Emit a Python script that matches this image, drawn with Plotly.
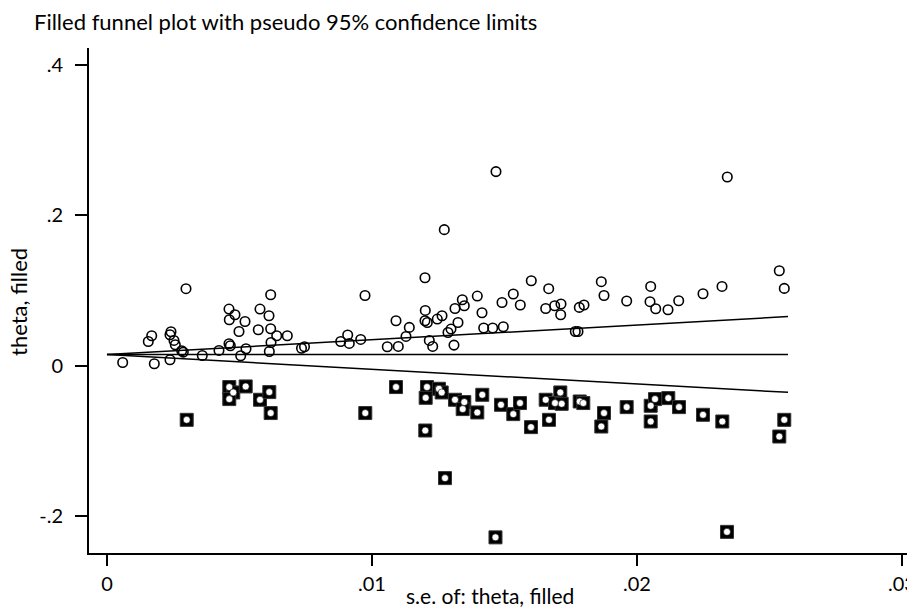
import plotly.graph_objects as go

# Observed studies: standard error and effect (theta)
se_obs = [0.000592, 0.001558, 0.001687, 0.001785, 0.002377, 0.002415, 0.002377, 0.002528, 0.002577,
          0.002819, 0.002879, 0.002981, 0.003596, 0.004226, 0.004604, 0.004830, 0.004615, 0.005208,
          0.004981, 0.004604, 0.004653, 0.005245, 0.005045, 0.005774, 0.006113, 0.005709, 0.006177,
          0.006177, 0.006404, 0.006804, 0.006189, 0.006125, 0.007340, 0.007453, 0.008819, 0.009083,
          0.009143, 0.009574, 0.009736, 0.010577, 0.010992, 0.010906, 0.011283, 0.011408, 0.012000,
          0.012011, 0.012000, 0.012087, 0.012162, 0.012291, 0.012464, 0.012642, 0.012728, 0.012868,
          0.012981, 0.013094, 0.013132, 0.013245, 0.013408, 0.013483, 0.013974, 0.014151, 0.014215,
          0.014555, 0.014679, 0.014906, 0.014955, 0.015332, 0.015596, 0.016011, 0.016555, 0.016668,
          0.016894, 0.017132, 0.017121, 0.017672, 0.017774, 0.017823, 0.018000, 0.018653, 0.018755,
          0.019611, 0.020517, 0.020491, 0.020706, 0.021170, 0.021574, 0.022491, 0.023208, 0.023408,
          0.025370, 0.025558]
theta_obs = [0.0044, 0.0323, 0.0399, 0.0027, 0.0080, 0.0452, 0.0413, 0.0337, 0.0279,
             0.0200, 0.0182, 0.1025, 0.0137, 0.0204, 0.0754, 0.0679, 0.0612, 0.0589,
             0.0456, 0.0293, 0.0266, 0.0226, 0.0133, 0.0754, 0.0665, 0.0479, 0.0492,
             0.0945, 0.0399, 0.0399, 0.0310, 0.0190, 0.0233, 0.0253, 0.0323, 0.0409,
             0.0297, 0.0350, 0.0935, 0.0253, 0.0257, 0.0599, 0.0390, 0.0510, 0.1171,
             0.0736, 0.0599, 0.0576, 0.0337, 0.0257, 0.0621, 0.0665, 0.1810, 0.0443,
             0.0488, 0.0275, 0.0762, 0.0576, 0.0878, 0.0798, 0.0927, 0.0705, 0.0502,
             0.0502, 0.2582, 0.0842, 0.0519, 0.0954, 0.0808, 0.1131, 0.0762, 0.1025,
             0.0798, 0.0821, 0.0679, 0.0456, 0.0456, 0.0776, 0.0808, 0.1118, 0.0935,
             0.0861, 0.1055, 0.0852, 0.0758, 0.0745, 0.0865, 0.0958, 0.1055, 0.2511,
             0.1264, 0.1029]

# Filled (imputed) studies
se_fill = [0.003008, 0.004615, 0.004766, 0.005234, 0.004615, 0.005774, 0.006125, 0.006177, 0.009747,
           0.010906, 0.012075, 0.012026, 0.012011, 0.012528, 0.012630, 0.012755, 0.013132, 0.013483,
           0.013423, 0.013974, 0.014162, 0.014660, 0.014868, 0.015332, 0.015585, 0.016000, 0.016555,
           0.016679, 0.017106, 0.016906, 0.017158, 0.017838, 0.017974, 0.018755, 0.018653, 0.019611,
           0.020517, 0.020679, 0.021181, 0.021585, 0.020517, 0.022491, 0.023219, 0.023396, 0.025558,
           0.025370]
theta_fill = [-0.0719, -0.0283, -0.0355, -0.0275, -0.0443, -0.0452, -0.0350, -0.0629, -0.0629,
              -0.0283, -0.0283, -0.0426, -0.0861, -0.0306, -0.0355, -0.1494, -0.0452, -0.0483,
              -0.0576, -0.0621, -0.0386, -0.2282, -0.0519, -0.0643, -0.0496, -0.0816, -0.0452,
              -0.0719, -0.0355, -0.0496, -0.0506, -0.0475, -0.0496, -0.0629, -0.0808, -0.0550,
              -0.0532, -0.0443, -0.0430, -0.0550, -0.0741, -0.0652, -0.0741, -0.2209, -0.0719,
              -0.0941]

theta_pooled = 0.0150
se_max = 0.0257
z = 1.96

x_ticks = [0, 0.01, 0.02, 0.03]
x_ticklabels = ["0", ".01", ".02", ".03"]
y_ticks = [-0.2, 0, 0.2, 0.4]
y_ticklabels = ["-.2", "0", ".2", ".4"]

FONT = "Lato, 'Open Sans', sans-serif"
TICK = dict(family=FONT, size=20, color="black")
TXT = dict(family=FONT, size=22, color="black")

fig = go.Figure()

# pseudo 95% limits and pooled estimate
fig.add_trace(go.Scatter(x=[0, se_max], y=[theta_pooled, theta_pooled + z * se_max], mode="lines",
                         line=dict(color="black", width=1.5), hoverinfo="skip"))
fig.add_trace(go.Scatter(x=[0, se_max], y=[theta_pooled, theta_pooled - z * se_max], mode="lines",
                         line=dict(color="black", width=1.5), hoverinfo="skip"))
fig.add_trace(go.Scatter(x=[0, se_max], y=[theta_pooled, theta_pooled], mode="lines",
                         line=dict(color="black", width=1.5), hoverinfo="skip"))

# observed studies
fig.add_trace(go.Scatter(x=se_obs, y=theta_obs, mode="markers",
                         marker=dict(symbol="circle-open", size=9.5, color="black",
                                     line=dict(width=1.6, color="black"))))

# filled studies: square with circle inside
fig.add_trace(go.Scatter(x=se_fill, y=theta_fill, mode="markers",
                         marker=dict(symbol="square", size=13, color="black",
                                     line=dict(width=1, color="#333"))))
fig.add_trace(go.Scatter(x=se_fill, y=theta_fill, mode="markers",
                         marker=dict(symbol="circle", size=7, color="white",
                                     line=dict(width=0.6, color="black"))))

fig.update_layout(
    width=907, height=609,
    margin=dict(l=89, r=0, t=48, b=56, autoexpand=False),
    paper_bgcolor="white", plot_bgcolor="white",
    showlegend=False,
    font=TXT,
    xaxis=dict(range=[-0.000679, 0.030189], tickvals=x_ticks, ticktext=x_ticklabels,
               showgrid=False, zeroline=False, showline=True, linecolor="black", linewidth=2,
               ticks="outside", ticklen=11, tickwidth=1.5, tickcolor="black", automargin=False,
               ticklabelstandoff=1, ticklabeloverflow="allow", tickfont=TICK),
    yaxis=dict(range=[-0.249, 0.4226], tickvals=y_ticks, ticktext=y_ticklabels,
               showgrid=False, zeroline=False, showline=True, linecolor="black", linewidth=2,
               ticks="outside", ticklen=12, tickwidth=1.5, tickcolor="black", automargin=False,
               ticklabelstandoff=8, tickfont=TICK),
    annotations=[
        dict(text="Filled funnel plot with pseudo 95% confidence limits", xref="paper", yref="paper",
             x=(32 - 89) / 818, y=1 + (48 - 22) / 505, xanchor="left", yanchor="middle",
             showarrow=False, font=TXT),
        dict(text="theta, filled", xref="paper", yref="paper",
             x=(18 - 89) / 818, y=(553 - 302) / 505, xanchor="center", yanchor="middle",
             textangle=-90, showarrow=False, font=TXT),
        dict(text="s.e. of: theta, filled", xref="paper", yref="paper",
             x=(490 - 89) / 818, y=-(595 - 553) / 505, xanchor="center", yanchor="middle",
             showarrow=False, font=dict(family=FONT, size=21, color="black")),
    ],
)

fig.write_html("out.html")
